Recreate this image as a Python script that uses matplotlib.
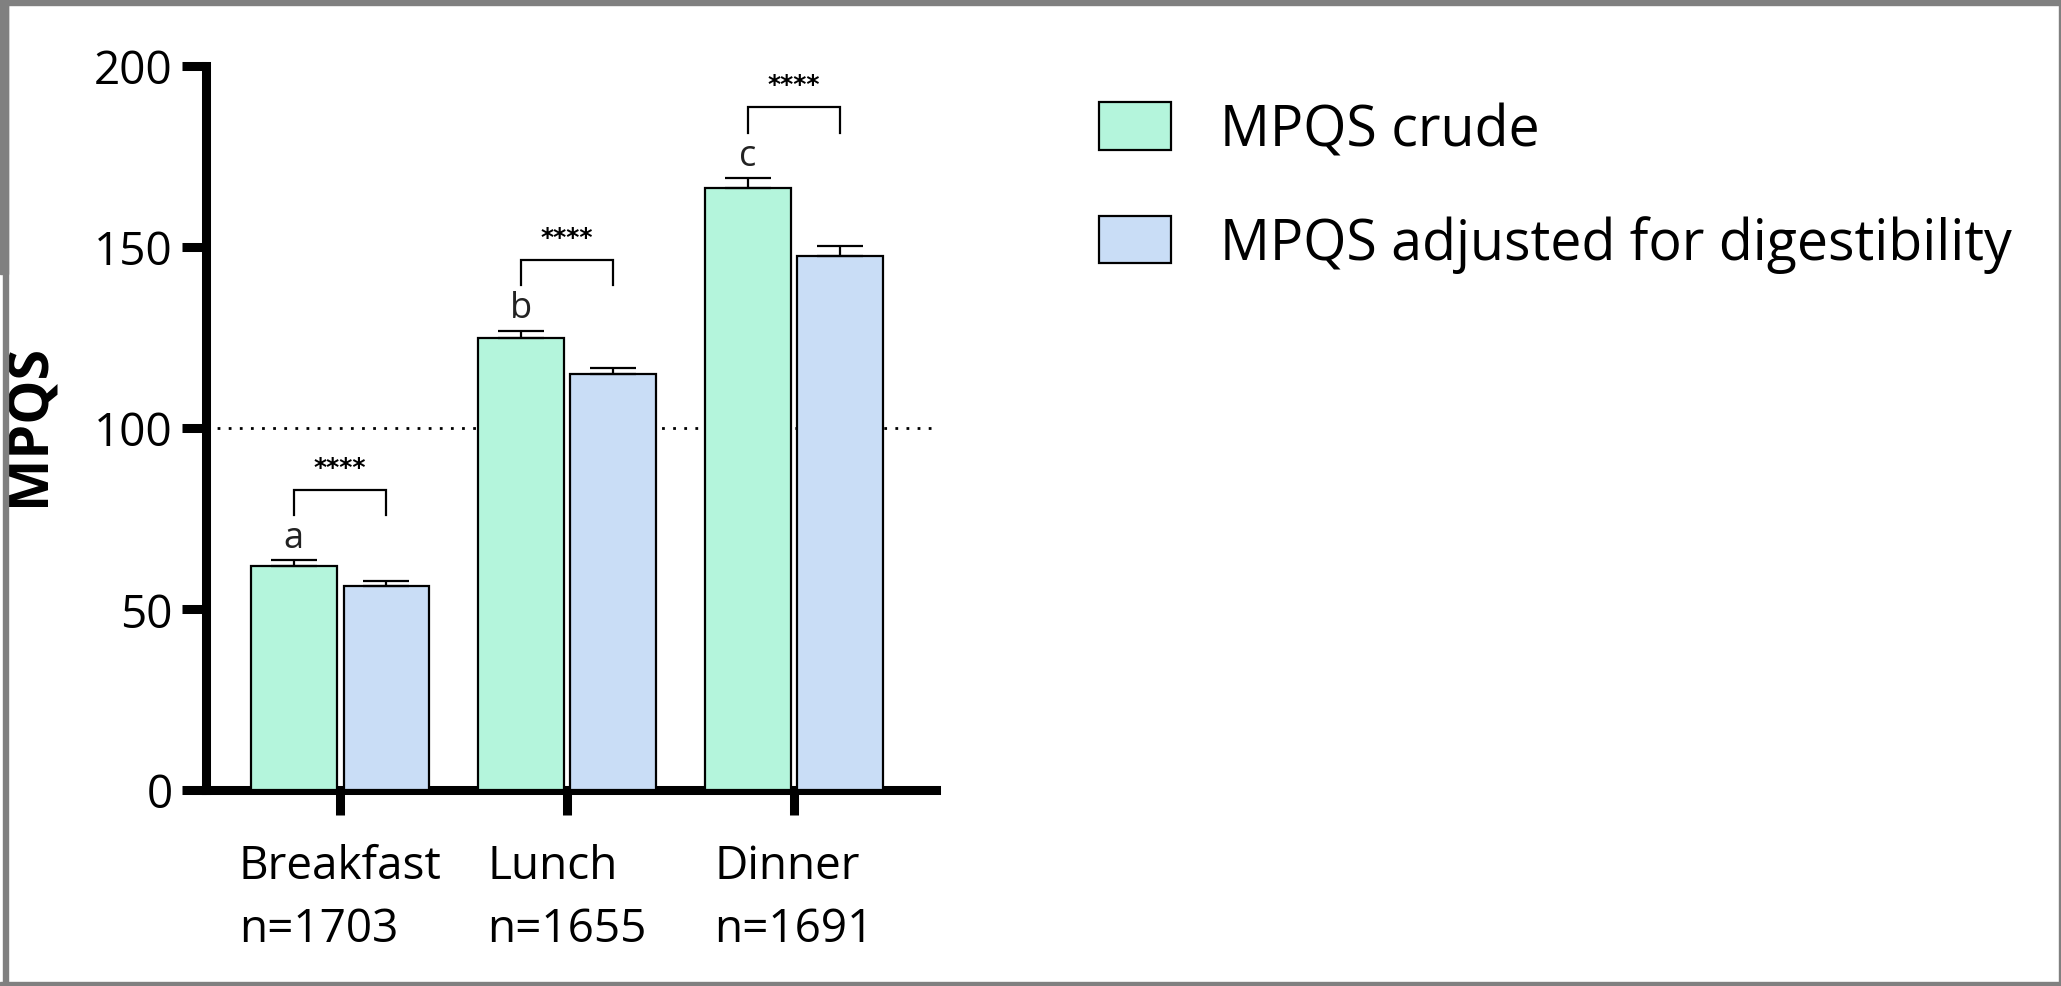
import matplotlib
matplotlib.use("Agg")
import matplotlib.pyplot as plt
from matplotlib.patches import Rectangle

# Meal categories and sample sizes
meals = ["Breakfast", "Lunch", "Dinner"]
n_sizes = [1703, 1655, 1691]

# Mean MPQS with SEM (upper error only)
mpqs_crude = [62.0, 125.0, 166.3]
sem_crude = [1.4, 1.9, 2.8]
mpqs_adjusted = [56.4, 114.9, 147.6]
sem_adjusted = [1.3, 1.7, 2.7]

# Letters for between-meal comparisons of crude MPQS
group_letters = ["a", "b", "c"]
pair_stars = ["****", "****", "****"]
reference_level = 100

series_labels = ["MPQS crude", "MPQS adjusted for digestibility"]
color_crude = "#b4f5dc"
color_adjusted = "#c9ddf6"

plt.rcParams["font.family"] = ["Open Sans", "DejaVu Sans"]

W, H = 2061, 987
fig = plt.figure(figsize=(W / 100, H / 100), dpi=100)
ax = fig.add_axes([206 / W, 1 - 791 / H, (936 - 206) / W, (791 - 67) / H])

x = list(range(len(meals)))
bw = 0.377
off = 0.2035
xc = [i - off for i in x]
xa = [i + off for i in x]

ax.axhline(reference_level, color="black", lw=2.0, ls=(0, (1, 3)), zorder=1)

b1 = ax.bar(xc, mpqs_crude, width=bw, color=color_crude, edgecolor="black",
            linewidth=1.6, zorder=3, label=series_labels[0])
b2 = ax.bar(xa, mpqs_adjusted, width=bw, color=color_adjusted, edgecolor="black",
            linewidth=1.6, zorder=3, label=series_labels[1])

ax.errorbar(xc, mpqs_crude, yerr=[[0] * 3, sem_crude], fmt="none", ecolor="black",
            elinewidth=1.6, capsize=16.5, capthick=1.6, zorder=4)
ax.errorbar(xa, mpqs_adjusted, yerr=[[0] * 3, sem_adjusted], fmt="none", ecolor="black",
            elinewidth=1.6, capsize=16.5, capthick=1.6, zorder=4)

# Group letters above crude bars and significance brackets between series
for i in x:
    top = mpqs_crude[i] + sem_crude[i]
    ax.text(xc[i], top + 1.2, group_letters[i], ha="center", va="bottom",
            fontsize=26, color="#222222", zorder=5)
    yb = top + 19.5
    ax.plot([xc[i], xc[i], xa[i], xa[i]], [yb - 7, yb, yb, yb - 7],
            color="black", lw=1.6, zorder=5, solid_joinstyle="miter")
    ax.text(i, yb + 3.0, pair_stars[i], ha="center", va="bottom",
            fontsize=18, fontweight="bold", family="DejaVu Sans", zorder=5)

ax.set_xlim(-0.591, 2.626)
ax.set_ylim(0, 200)
ax.set_yticks([0, 50, 100, 150, 200])
ax.set_xticks(x)
ax.set_xticklabels([f"{m}\nn={n}" for m, n in zip(meals, n_sizes)],
                   multialignment="left", linespacing=1.5)

for s in ["top", "right"]:
    ax.spines[s].set_visible(False)
for s in ["left", "bottom"]:
    ax.spines[s].set_linewidth(6.5)
    ax.spines[s].set_capstyle("projecting")

ax.tick_params(axis="y", direction="out", length=17, width=6.5, labelsize=33, pad=7)
ax.tick_params(axis="x", direction="out", length=18, width=6.5, labelsize=33, pad=20)

fig.text(30 / W, 1 - 425 / H, "MPQS", rotation=90, ha="center", va="center",
         fontsize=40, fontweight="bold")

ax.legend(handles=[b1, b2], loc="upper left", bbox_to_anchor=(1088 / W, 1 - 92 / H),
          bbox_transform=fig.transFigure, frameon=False, fontsize=40,
          handlelength=1.3, handleheight=0.95, handletextpad=0.88,
          labelspacing=1.0, borderpad=0.2, borderaxespad=0)

# Outer frame
gray = "#808080"
fig.patches.extend([
    Rectangle((0, 1 - 6 / H), 1, 6 / H, transform=fig.transFigure, color=gray, zorder=10),
    Rectangle((0, 1 - 275 / H), 8 / W, 275 / H, transform=fig.transFigure, color=gray, zorder=10),
    Rectangle((3 / W, 0), 5 / W, 1, transform=fig.transFigure, color=gray, zorder=10),
    Rectangle((1 - 2 / W, 0), 2 / W, 1, transform=fig.transFigure, color=gray, zorder=10),
    Rectangle((0, 0), 1, 4 / H, transform=fig.transFigure, color=gray, zorder=10),
])

fig.savefig("out.png", dpi=100, facecolor="white")
